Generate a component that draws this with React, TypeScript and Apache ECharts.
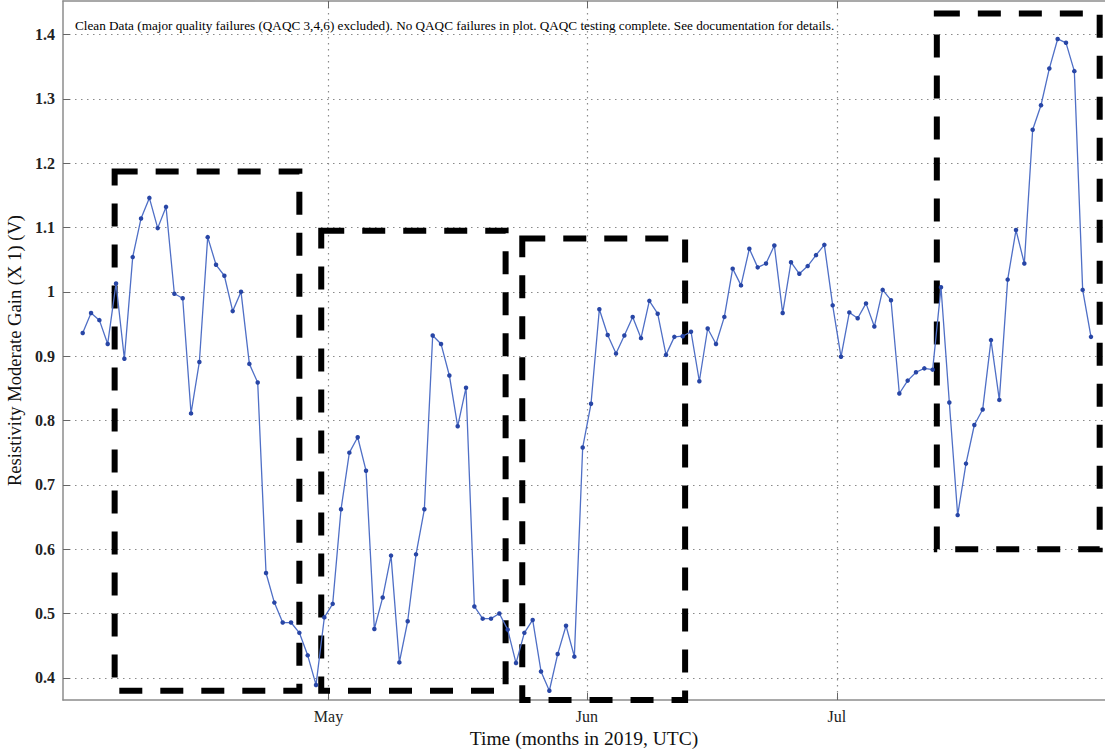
import React, { useEffect, useRef } from 'react';
import * as echarts from 'echarts';

// Daily values, 2019-04-01 .. 2019-07-31 (one reading per day, plotted at 12:00 UTC)
const START_DATE = Date.UTC(2019, 3, 1, 12);
const DAY_MS = 86400000;

const aprilValues = [
  0.936, 0.967, 0.956, 0.919, 1.013, 0.896, 1.054, 1.114, 1.146, 1.099,
  1.132, 0.997, 0.990, 0.811, 0.891, 1.085, 1.042, 1.025, 0.970, 1.000,
  0.888, 0.859, 0.563, 0.517, 0.486, 0.486, 0.470, 0.435, 0.389, 0.494,
];
const mayValues = [
  0.515, 0.662, 0.750, 0.774, 0.722, 0.476, 0.525, 0.590, 0.424, 0.488,
  0.592, 0.662, 0.932, 0.919, 0.870, 0.791, 0.851, 0.511, 0.492, 0.492,
  0.500, 0.475, 0.423, 0.470, 0.490, 0.410, 0.380, 0.437, 0.481, 0.433,
  0.758,
];
const juneValues = [
  0.826, 0.973, 0.933, 0.904, 0.932, 0.961, 0.928, 0.986, 0.966, 0.902,
  0.930, 0.931, 0.938, 0.861, 0.943, 0.919, 0.961, 1.036, 1.010, 1.067,
  1.038, 1.044, 1.072, 0.967, 1.046, 1.028, 1.040, 1.057, 1.073, 0.979,
];
const julyValues = [
  0.899, 0.968, 0.959, 0.982, 0.946, 1.003, 0.987, 0.842, 0.862, 0.875,
  0.881, 0.879, 1.007, 0.828, 0.653, 0.733, 0.793, 0.817, 0.925, 0.832,
  1.019, 1.096, 1.044, 1.252, 1.290, 1.347, 1.393, 1.387, 1.343, 1.003,
  0.930,
];

const monthTicks = [Date.UTC(2019, 4, 1), Date.UTC(2019, 5, 1), Date.UTC(2019, 6, 1)];
const monthLabels = ['May', 'Jun', 'Jul'];
const yTicks = [0.4, 0.5, 0.6, 0.7, 0.8, 0.9, 1, 1.1, 1.2, 1.3, 1.4];

const X_MIN = Date.UTC(2019, 2, 30, 3, 15);
const X_MAX = Date.UTC(2019, 7, 2, 4, 20);
const Y_MIN = 0.3656;
const Y_MAX = 1.452;

// Dashed annotation boxes (time range, value range)
const boxStart = [Date.UTC(2019, 3, 5, 8), Date.UTC(2019, 3, 30, 3), Date.UTC(2019, 4, 24, 6), Date.UTC(2019, 6, 13, 0)];
const boxEnd = [Date.UTC(2019, 3, 27, 12), Date.UTC(2019, 4, 22, 6), Date.UTC(2019, 5, 12, 19), Date.UTC(2019, 7, 1, 13)];
const boxLow = [0.38, 0.38, 0.3656, 0.6];
const boxHigh = [1.187, 1.095, 1.083, 1.4326];

const noteText =
  'Clean Data (major quality failures (QAQC 3,4,6) excluded). No QAQC failures in plot. QAQC testing complete. See documentation for details.';
const yTitle = 'Resistivity Moderate Gain (X 1) (V)';
const xTitle = 'Time (months in 2019, UTC)';

const SERIF = '"Liberation Serif", "DejaVu Serif", serif';

export default function App() {
  const ref = useRef<HTMLDivElement>(null);

  useEffect(() => {
    if (!ref.current) return;
    const chart = echarts.init(ref.current, null, { renderer: 'svg' });
    const allValues = [...aprilValues, ...mayValues, ...juneValues, ...julyValues];
    const seriesData = allValues.map((v, i) => [START_DATE + i * DAY_MS, v]);

    const gridLine = { show: true, lineStyle: { color: '#8a8a8a', width: 1.2, type: [1.5, 4.5] as any } };
    const axisLineStyle = { color: '#8c8c8c', width: 1.5 };
    const monthLabel = (v: number) => {
      const i = monthTicks.findIndex((t) => Math.abs(t - v) < 1000);
      return i >= 0 ? monthLabels[i] : '';
    };

    chart.setOption({
      animation: false,
      backgroundColor: '#ffffff',
      grid: { left: 63, right: 0, top: 1, bottom: 49, containLabel: false, outerBoundsMode: 'none' },
      xAxis: [
        {
          type: 'value',
          min: X_MIN,
          max: X_MAX,
          position: 'bottom',
          axisLine: { show: true, lineStyle: axisLineStyle },
          axisTick: { show: true, inside: true, length: 7, lineStyle: { color: '#666', width: 1 }, customValues: monthTicks },
          axisLabel: {
            show: true,
            customValues: monthTicks,
            margin: 8,
            color: '#222',
            fontFamily: SERIF,
            fontSize: 16,
            formatter: monthLabel,
          },
          splitLine: gridLine,
          name: xTitle,
          nameLocation: 'middle',
          nameGap: 27,
          nameTextStyle: { color: '#111', fontFamily: SERIF, fontSize: 19.5 },
        },
        {
          type: 'value',
          min: X_MIN,
          max: X_MAX,
          position: 'top',
          axisLine: { show: true, lineStyle: axisLineStyle },
          axisTick: { show: true, inside: true, length: 7, lineStyle: { color: '#666', width: 1 }, customValues: monthTicks },
          axisLabel: { show: false, customValues: monthTicks },
          splitLine: { show: false },
        },
      ],
      yAxis: {
        type: 'value',
        min: Y_MIN,
        max: Y_MAX,
        axisLine: { show: true, lineStyle: axisLineStyle },
        axisTick: { show: true, inside: true, length: 7, lineStyle: { color: '#666', width: 1 }, customValues: yTicks },
        axisLabel: {
          show: true,
          customValues: yTicks,
          margin: 8,
          color: '#222',
          fontFamily: SERIF,
          fontSize: 16,
          fontWeight: 'bold',
        },
        splitLine: gridLine,
        name: yTitle,
        nameLocation: 'middle',
        nameRotate: 90,
        nameGap: 36,
        nameTextStyle: { color: '#111', fontFamily: SERIF, fontSize: 18.6 },
      },
      graphic: [
        {
          type: 'text',
          left: 75,
          top: 19,
          z: 100,
          style: { text: noteText, font: '13.2px "Liberation Serif", serif', fill: '#000' },
        },
      ],
      series: [
        {
          type: 'line',
          xAxisIndex: 0,
          data: seriesData,
          clip: false,
          symbol: 'circle',
          symbolSize: 4.5,
          showSymbol: true,
          showAllSymbol: true,
          lineStyle: { color: '#4f6fc6', width: 1.3 },
          itemStyle: { color: '#2846a6' },
          emphasis: { disabled: true },
          markArea: {
            silent: true,
            label: { show: false },
            itemStyle: { color: 'rgba(0,0,0,0)', borderColor: '#000', borderWidth: 6, borderType: [23, 18] },
            data: boxStart.map((s, i) => [
              { coord: [s, boxHigh[i]] },
              { coord: [boxEnd[i], boxLow[i]] },
            ]),
          },
        },
      ],
    });

    return () => chart.dispose();
  }, []);

  return <div ref={ref} style={{ position: 'fixed', left: 0, top: 0, width: 1105, height: 749 }} />;
}
